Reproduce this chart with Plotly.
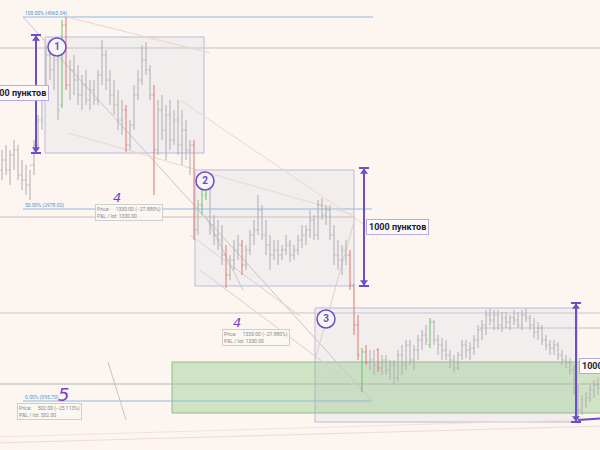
import plotly.graph_objects as go

# ---------------- data (bar index 0..149, prices) ----------------
opens = [2800, 2900, 2800, 2950, 3000, 2750, 2700, 2650, 2850, 3050,
         3300, 3550, 3950, 3800, 3900, 3450, 4250, 3650, 3800, 3700,
         3550, 3650, 3500, 3600, 3500, 3750, 3950, 3700, 3550, 3450,
         3300, 3400, 3050, 3250, 3550, 3700, 3900, 3800, 3550, 3000,
         3400, 3200, 3350, 3100, 3300, 3050, 3200, 3000, 3050, 2200,
         2450, 2550, 2650, 2250, 2150, 2100, 1950, 1750, 1900, 2000,
         2050, 1850, 2000, 2150, 2200, 2400, 2150, 2050, 1950, 2000,
         1950, 2000, 2050, 1950, 2000, 2100, 2150, 2200, 2300, 2150,
         2450, 2350, 2400, 2150, 1950, 1900, 2000, 1950, 1650, 1250,
         620, 980, 880, 900, 1000, 820, 900, 800, 850, 720,
         950, 850, 1050, 900, 1000, 1100, 1150, 1050, 1280, 1100,
         1050, 1000, 950, 900, 820, 950, 1050, 1000, 1020, 1100,
         1200, 1250, 1350, 1300, 1350, 1250, 1320, 1280, 1320, 1300,
         1250, 1350, 1320, 1250, 1180, 1220, 1100, 1050, 1020, 1050,
         950, 900, 880, 800, 600, 400, 500, 520, 600, 650]
highs = [3000, 3050, 3000, 3100, 3050, 2900, 2850, 2800, 3100, 3350,
         3650, 4050, 4100, 4050, 4000, 4300, 4330, 3900, 3950, 3850,
         3750, 3800, 3700, 3700, 3800, 4100, 4000, 3800, 3700, 3600,
         3500, 3450, 3300, 3650, 3800, 4050, 4080, 3850, 3650, 3500,
         3550, 3450, 3500, 3400, 3500, 3400, 3300, 3100, 3100, 2500,
         2650, 2700, 2650, 2350, 2300, 2250, 2050, 1950, 2100, 2150,
         2100, 2050, 2200, 2300, 2550, 2450, 2300, 2150, 2100, 2100,
         2050, 2150, 2100, 2050, 2150, 2250, 2250, 2400, 2350, 2500,
         2520, 2450, 2450, 2250, 2100, 2050, 2100, 2000, 1650, 1350,
         1020, 1050, 1000, 1000, 1020, 950, 950, 900, 900, 1000,
         1050, 1100, 1100, 1050, 1150, 1200, 1250, 1320, 1300, 1150,
         1120, 1100, 1000, 950, 980, 1100, 1100, 1080, 1150, 1250,
         1300, 1400, 1420, 1400, 1400, 1380, 1380, 1350, 1400, 1380,
         1400, 1420, 1350, 1320, 1280, 1250, 1150, 1100, 1100, 1080,
         1000, 950, 920, 850, 650, 550, 580, 650, 700, 720]
lows = [2700, 2750, 2650, 2800, 2700, 2600, 2550, 2500, 2750, 3000,
        3200, 3500, 3700, 3600, 3300, 3420, 3600, 3500, 3550, 3450,
        3400, 3450, 3400, 3450, 3450, 3650, 3600, 3450, 3350, 3200,
        3150, 2980, 3000, 3200, 3500, 3650, 3750, 3500, 2550, 2950,
        3100, 2900, 3000, 3050, 2950, 2850, 2900, 2750, 2100, 2150,
        2350, 2500, 2150, 2050, 2000, 1850, 1620, 1700, 1800, 1900,
        1750, 1800, 1950, 2050, 2150, 2100, 1950, 1800, 1900, 1850,
        1900, 1950, 1880, 1900, 1950, 2020, 2050, 2120, 2100, 2100,
        2300, 2250, 2100, 1850, 1800, 1750, 1850, 1600, 1150, 900,
        580, 850, 800, 750, 780, 750, 750, 700, 650, 680,
        750, 800, 850, 800, 900, 1000, 1050, 1020, 1050, 950,
        900, 900, 820, 780, 800, 900, 920, 900, 950, 1020,
        1100, 1150, 1250, 1200, 1200, 1180, 1220, 1200, 1250, 1220,
        1200, 1280, 1200, 1120, 1100, 1050, 1000, 950, 950, 900,
        850, 820, 750, 550, 320, 350, 420, 480, 520, 550]
closes = [2900, 2800, 2950, 3000, 2750, 2700, 2650, 2850, 3050, 3300,
          3550, 3950, 3800, 3900, 3400, 4250, 3650, 3800, 3700, 3550,
          3650, 3500, 3600, 3500, 3750, 3950, 3700, 3550, 3450, 3300,
          3400, 3050, 3250, 3550, 3700, 3900, 3800, 3550, 3000, 3400,
          3200, 3350, 3100, 3300, 3050, 3200, 3000, 3050, 2200, 2450,
          2600, 2650, 2250, 2150, 2100, 1950, 1750, 1900, 2000, 2050,
          1850, 2000, 2150, 2200, 2400, 2150, 2050, 1950, 2000, 1950,
          2000, 2050, 1950, 2000, 2100, 2150, 2200, 2300, 2150, 2450,
          2350, 2400, 2150, 1950, 1900, 2000, 1950, 1650, 1250, 950,
          980, 880, 900, 850, 820, 900, 800, 850, 720, 950,
          850, 1050, 900, 1000, 1100, 1150, 1100, 1280, 1100, 1050,
          1000, 950, 900, 820, 950, 1050, 1000, 1020, 1100, 1200,
          1250, 1350, 1300, 1350, 1250, 1320, 1280, 1320, 1300, 1250,
          1350, 1320, 1250, 1180, 1220, 1100, 1050, 1020, 1050, 950,
          900, 880, 800, 600, 400, 500, 520, 600, 650, 620]
red_bars = [16, 31, 38, 48, 56, 60, 87, 88, 89, 91, 94]
green_bars = [15, 50, 51, 90, 107]

fib_labels = ["100.00% (4960.34)", "50.00% (2978.02)", "0.00% (995.70)"]
measure_label = "1000 пунктов"
price_box_a = "Price:&nbsp;&nbsp;&nbsp;&nbsp;&nbsp;1330.00 (−27.880%)<br>P&amp;L / lot: 1330.00"
price_box_b = "Price:&nbsp;&nbsp;&nbsp;&nbsp;&nbsp;502.00 (−25.113%)<br>P&amp;L / lot: 502.00"

# ---------------- helpers (drawing anchors: screen px -> bar / price) ----------------
def X(px):
    return (px - 2) / 4.0

def Y(py):
    return 4500 - 10 * py

BG = "#fcf5f0"
GRAY = "#acacb0"
RED = "#e0766e"
GREEN = "#6cbf6a"
PURPLE = "#6a4fc8"
BLUE = "#8fbbe3"

n = len(opens)
idx = list(range(n))
special = set(red_bars) | set(green_bars)

def subset(ids):
    return dict(x=ids, open=[opens[i] for i in ids], high=[highs[i] for i in ids],
                low=[lows[i] for i in ids], close=[closes[i] for i in ids])

fig = go.Figure()
gray_ids = [i for i in idx if i not in special]
for ids, col in [(gray_ids, GRAY), (red_bars, RED), (green_bars, GREEN)]:
    fig.add_trace(go.Ohlc(**subset(ids), increasing_line_color=col, decreasing_line_color=col,
                          line_width=1, tickwidth=0.35, hoverinfo="skip"))

shapes = []

def line(x0, y0, x1, y1, color, width=1, dash="solid", layer="below"):
    shapes.append(dict(type="line", x0=X(x0), y0=Y(y0), x1=X(x1), y1=Y(y1),
                       line=dict(color=color, width=width, dash=dash), layer=layer))

def rect(x0, y0, x1, y1, fill, color):
    shapes.append(dict(type="rect", x0=X(x0), y0=Y(y1), x1=X(x1), y1=Y(y0),
                       fillcolor=fill, line=dict(color=color, width=1), layer="below"))

# boxes
rect(45, 37, 204, 153, "rgba(232,232,234,0.5)", "#b9bbd9")
rect(195, 170, 354, 286, "rgba(232,232,234,0.5)", "#b9bbd9")
rect(315, 308, 577, 422, "rgba(232,232,234,0.5)", "#b9bbd9")
rect(172, 362, 606, 413, "rgba(120,190,110,0.33)", "#93bb8d")

# horizontal levels
line(-5, 48, 605, 48, "#c4c2c6")
line(23, 17, 373, 17, BLUE)
line(23, 209, 372, 209, BLUE)
line(-5, 217, 355, 217, "#c4c2c6")
line(-5, 313, 605, 313, "#c9c6c6")
line(480, 328, 605, 328, "#c4c2c6")
line(-5, 384, 605, 384, "#b3b6b0")
line(23, 401, 372, 401, BLUE)

# thin diagonal drawings
line(23, 17, 372, 401, "#c8c4c8")
line(68, 133, 355, 215, "#ecd4d0")
line(67, 17, 210, 53, "#ecd4d0")
line(180, 100, 372, 230, "#ecd4d0")
line(205, 215, 243, 290, "#c8c4c8")
line(200, 270, 363, 392, "#d6d0d4")
line(190, 235, 300, 316, "#d6d0d4")
line(315, 360, 355, 218, "#e0cccc")
line(108, 362, 126, 420, "#c8c4c8")
line(-5, 443, 605, 426, "#ecdcd8")
line(-5, 437, 605, 419, "#f0e2de")

# purple measurement arrows
for (mx, top, bot) in [(36, 35, 153), (364, 168, 286), (576, 303, 422)]:
    line(mx, top, mx, bot, PURPLE, width=2, layer="above")
    line(mx - 5, top, mx + 5, top, PURPLE, width=2, layer="above")
    line(mx - 5, bot, mx + 5, bot, PURPLE, width=2, layer="above")
line(578, 420, 606, 418, PURPLE, width=2, layer="above")

fig.add_trace(go.Scatter(x=[X(36), X(364), X(576)], y=[Y(39), Y(172), Y(307)], mode="markers",
                         marker=dict(symbol="triangle-up", size=7, color=PURPLE), hoverinfo="skip"))
fig.add_trace(go.Scatter(x=[X(36), X(364), X(576)], y=[Y(149), Y(282), Y(418)], mode="markers",
                         marker=dict(symbol="triangle-down", size=7, color=PURPLE), hoverinfo="skip"))

# numbered circles
fig.add_trace(go.Scatter(x=[X(57), X(205), X(326)], y=[Y(47), Y(181), Y(319)], mode="markers+text",
                         text=["<b>1</b>", "<b>2</b>", "<b>3</b>"], textposition="middle center",
                         textfont=dict(color=PURPLE, size=10, family="Roboto"),
                         marker=dict(symbol="circle", size=18, color="#f8f5f8",
                                     line=dict(color=PURPLE, width=1.5)), hoverinfo="skip"))

annotations = []
# measurement labels (left one and right one run off the edge, as in the reference)
for (ax, ay, anchor) in [(17, 93, "center"), (366, 227, "left"), (579, 366, "left")]:
    annotations.append(dict(x=X(ax), y=Y(ay), text="<b>" + measure_label + "</b>", showarrow=False,
                            xanchor=anchor, font=dict(size=9, color="#1d1d33", family="Roboto"),
                            bgcolor="#fbf9f9", bordercolor="#b7a9e6", borderwidth=1, borderpad=2))
# fib labels
for (ly, t) in [(13, fib_labels[0]), (205, fib_labels[1]), (397, fib_labels[2])]:
    annotations.append(dict(x=X(23), y=Y(ly), text=t, showarrow=False, xanchor="left", yanchor="middle",
                            font=dict(size=5, color="#4f93d6", family="Roboto")))
# price boxes
for (bx, by, t) in [(95, 212, price_box_a), (222, 337, price_box_a), (17, 411, price_box_b)]:
    annotations.append(dict(x=X(bx), y=Y(by), text=t, showarrow=False, xanchor="left", yanchor="middle",
                            align="left", font=dict(size=5, color="#8a8a8a", family="Roboto"),
                            bgcolor="rgba(251,247,243,0.9)", bordercolor="#cfcfcf", borderwidth=1, borderpad=1))
# handwritten marks
for (hx, hy, t, s) in [(117, 197, "4", 13), (237, 322, "4", 13), (63, 394, "5", 18)]:
    annotations.append(dict(x=X(hx), y=Y(hy), text="<i>" + t + "</i>", showarrow=False,
                            font=dict(size=s, color="#7a3fc8", family="DejaVu Sans")))

fig.update_layout(
    width=600, height=450, margin=dict(l=0, r=0, t=0, b=0),
    paper_bgcolor=BG, plot_bgcolor=BG, showlegend=False,
    xaxis=dict(visible=False, range=[-0.5, 149.5], rangeslider=dict(visible=False), fixedrange=True),
    yaxis=dict(visible=False, range=[0, 4500], fixedrange=True),
    shapes=shapes, annotations=annotations,
)

fig.write_html("out.html", config={"displayModeBar": False},
               post_script="document.body.style.margin='0';document.body.style.background='#fcf5f0';")
